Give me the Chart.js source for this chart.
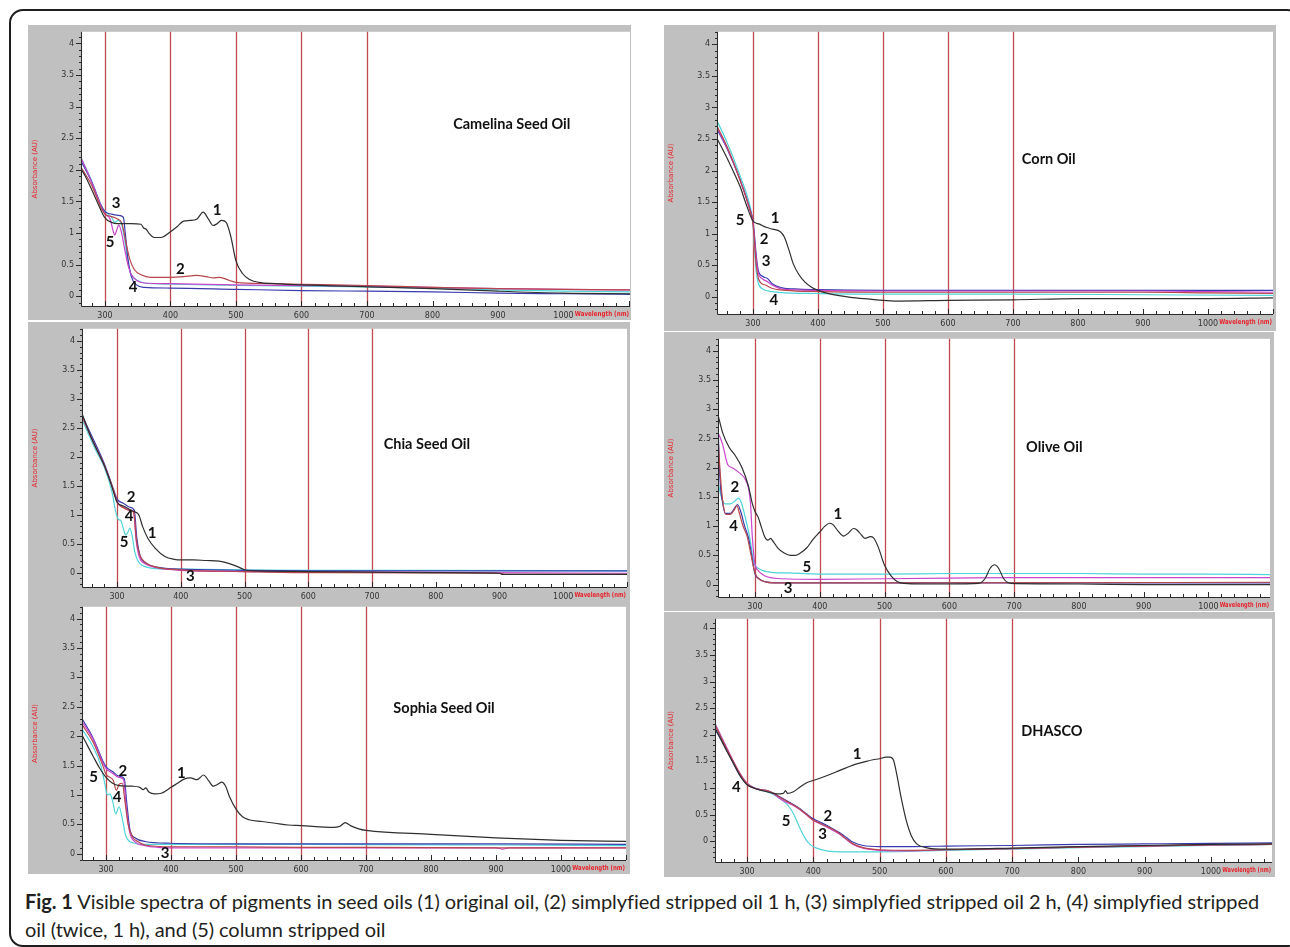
<!DOCTYPE html>
<html>
<head>
<meta charset="utf-8">
<script src="https://cdn.jsdelivr.net/npm/chart.js@4.4.0/dist/chart.umd.min.js"></script>
<style>
html,body{margin:0;padding:0;background:#fff;width:1290px;height:947px;overflow:hidden;position:relative;}
#frame{position:absolute;left:9px;top:9px;width:1292px;height:938px;border:2px solid #1e1e1e;border-radius:14px;box-sizing:border-box;}
canvas{position:absolute;}
#caption{position:absolute;left:25px;top:887px;font-family:Lato,"Open Sans",sans-serif;font-size:20px;line-height:28px;color:#231f20;white-space:nowrap;}
#caption b{font-weight:bold;}
</style>
</head>
<body>
<div id="frame"></div>
<div id="caption"><span id="capLine1"><b>Fig. 1</b> Visible spectra of pigments in seed oils (1) original oil, (2) simplyfied stripped oil 1 h, (3) simplyfied stripped oil 2 h, (4) simplyfied stripped</span><br><span id="capLine2">oil (twice, 1 h), and (5) column stripped oil</span></div>
<script>
// ---------- shared axis data ----------
const xTickValues = [300, 400, 500, 600, 700, 800, 900, 1000];
const xTickLabels = ['300', '400', '500', '600', '700', '800', '900', '1000'];
const yTickValues = [0, 0.5, 1, 1.5, 2, 2.5, 3, 3.5, 4];
const yTickLabels = ['0', '0.5', '1', '1.5', '2', '2.5', '3', '3.5', '4'];
const markerWavelengths = [300, 400, 500, 600, 700];
const seriesNames = ['1', '2', '3', '4', '5'];
const panelTitles = ['Camelina Seed Oil', 'Corn Oil', 'Chia Seed Oil', 'Olive Oil', 'Sophia Seed Oil', 'DHASCO'];
const xAxisTitle = 'Wavelength (nm)';
const yAxisTitle = 'Absorbance (AU)';

// ---------- Camelina seed oil: [wavelength nm, absorbance] ----------
const camelina1 = [[263,2.02],[270,1.9],[280,1.68],[290,1.45],[300,1.24],[310,1.17],[320,1.15],[340,1.15],[355,1.14],[359,1.08],[363,1.06],[367,1.0],[375,0.93],[385,0.93],[400,1.02],[410,1.1],[420,1.19],[430,1.2],[440,1.22],[450,1.33],[458,1.22],[465,1.12],[470,1.14],[478,1.2],[485,1.17],[492,0.95],[500,0.56],[510,0.36],[520,0.27],[535,0.22],[560,0.2],[600,0.18],[700,0.15],[800,0.12],[900,0.08],[1000,0.05],[1102,0.04]];
const camelina2 = [[263,2.05],[280,1.75],[295,1.38],[300,1.3],[310,1.26],[320,1.22],[326,1.15],[332,0.85],[338,0.58],[345,0.42],[355,0.34],[370,0.3],[400,0.3],[420,0.31],[440,0.33],[455,0.31],[465,0.29],[475,0.3],[490,0.25],[500,0.22],[550,0.2],[600,0.19],[700,0.17],[800,0.14],[900,0.12],[1000,0.11],[1102,0.1]];
const camelina3 = [[263,2.2],[280,1.8],[295,1.4],[300,1.3],[308,1.22],[312,1.05],[315,0.97],[318,1.05],[321,1.13],[325,1.02],[330,0.75],[335,0.5],[340,0.35],[350,0.24],[360,0.21],[400,0.2],[500,0.18],[600,0.17],[700,0.16],[800,0.14],[900,0.12],[1000,0.11],[1102,0.1]];
const camelina4 = [[263,2.15],[280,1.8],[295,1.42],[300,1.34],[310,1.3],[320,1.28],[328,1.25],[331,1.0],[335,0.6],[340,0.32],[348,0.18],[360,0.14],[400,0.13],[500,0.11],[600,0.09],[700,0.08],[800,0.07],[900,0.05],[1000,0.04],[1102,0.03]];
const camelina5 = [[263,2.2],[280,1.82],[295,1.42],[300,1.35],[310,1.25],[315,1.17],[320,1.2],[325,1.15],[330,0.9],[335,0.55],[340,0.35],[350,0.25],[360,0.21],[400,0.19],[500,0.17],[600,0.16],[700,0.15],[800,0.13],[900,0.1],[1000,0.08],[1102,0.07]];
const camelinaLabels = [['1',471,1.37],['2',415,0.43],['3',317,1.47],['4',343,0.14],['5',308,0.86]];

// ---------- Corn oil ----------
const corn1 = [[245,2.5],[260,2.2],[270,1.98],[280,1.75],[290,1.45],[300,1.2],[310,1.15],[320,1.1],[330,1.07],[342,1.03],[348,0.95],[355,0.75],[362,0.52],[370,0.36],[380,0.23],[390,0.15],[400,0.1],[420,0.04],[450,-0.01],[480,-0.04],[500,-0.06],[520,-0.07],[600,-0.06],[700,-0.05],[800,-0.03],[900,-0.03],[1000,-0.03],[1100,-0.02]];
const corn2 = [[245,2.7],[260,2.38],[280,1.85],[295,1.38],[300,1.15],[302,0.9],[305,0.5],[308,0.3],[312,0.22],[320,0.18],[330,0.13],[350,0.1],[400,0.08],[500,0.07],[700,0.07],[900,0.07],[1000,0.06],[1100,0.05]];
const corn3 = [[245,2.68],[260,2.36],[280,1.85],[295,1.38],[300,1.18],[302,0.95],[305,0.6],[308,0.38],[315,0.28],[322,0.24],[330,0.18],[345,0.12],[400,0.1],[500,0.09],[700,0.09],[900,0.09],[1000,0.08],[1100,0.07]];
const corn4 = [[245,2.65],[260,2.35],[280,1.86],[295,1.4],[300,1.2],[302,1.0],[305,0.65],[308,0.42],[315,0.32],[322,0.29],[330,0.2],[345,0.14],[370,0.12],[400,0.11],[500,0.1],[700,0.1],[900,0.1],[1000,0.1],[1100,0.1]];
const corn5 = [[245,2.78],[260,2.45],[280,1.92],[295,1.45],[300,1.15],[302,0.8],[305,0.4],[308,0.22],[315,0.12],[330,0.08],[350,0.06],[400,0.05],[500,0.04],[700,0.04],[900,0.03],[1100,0.02]];
const cornLabels = [['1',334,1.25],['2',317,0.91],['3',320,0.56],['4',332,-0.06],['5',280,1.22]];

// ---------- Chia seed oil ----------
const chia1 = [[245,2.75],[255,2.45],[265,2.2],[280,1.85],[290,1.55],[300,1.22],[310,1.15],[320,1.09],[328,1.05],[334,1.0],[340,0.8],[348,0.6],[360,0.42],[375,0.28],[390,0.23],[400,0.22],[420,0.22],[440,0.21],[460,0.2],[475,0.16],[490,0.1],[500,0.05],[520,0.03],[600,0.02],[700,0.01],[800,0.0],[900,-0.01],[905,-0.03],[1100,-0.03]];
const chia2 = [[245,2.7],[265,2.2],[280,1.85],[295,1.4],[300,1.22],[310,1.12],[320,1.07],[326,1.04],[330,0.6],[335,0.32],[342,0.2],[360,0.1],[400,0.05],[500,0.02],[600,0.0],[900,-0.01],[910,-0.03],[1100,-0.03]];
const chia3 = [[245,2.7],[265,2.2],[280,1.86],[295,1.4],[300,1.22],[310,1.13],[320,1.08],[326,1.05],[330,0.55],[335,0.27],[345,0.15],[360,0.09],[400,0.04],[500,0.02],[700,0.01],[1100,-0.01]];
const chia4 = [[245,2.72],[265,2.25],[280,1.88],[295,1.42],[300,1.27],[310,1.2],[320,1.13],[327,1.08],[331,0.6],[336,0.3],[345,0.17],[360,0.1],[380,0.07],[400,0.06],[500,0.04],[600,0.03],[1100,0.03]];
const chia5 = [[245,2.65],[265,2.15],[280,1.82],[292,1.4],[298,1.05],[302,0.92],[306,0.9],[310,0.75],[314,0.65],[317,0.7],[320,0.77],[324,0.62],[328,0.35],[334,0.18],[345,0.1],[360,0.07],[400,0.06],[500,0.05],[600,0.04],[800,0.04],[1100,0.03]];
const chiaLabels = [['1',355,0.69],['2',322,1.3],['3',415,-0.06],['4',319,0.98],['5',311,0.53]];

// ---------- Olive oil ----------
const olive1 = [[243,2.9],[250,2.6],[260,2.35],[270,2.2],[280,2.0],[290,1.68],[296,1.38],[300,1.25],[305,1.15],[310,0.98],[315,0.82],[320,0.76],[324,0.79],[328,0.74],[335,0.63],[345,0.54],[355,0.5],[362,0.5],[370,0.54],[380,0.63],[390,0.78],[400,0.9],[408,1.0],[415,1.05],[420,1.03],[428,0.92],[437,0.83],[444,0.88],[452,0.96],[457,0.94],[465,0.84],[470,0.79],[478,0.82],[483,0.8],[490,0.65],[500,0.33],[510,0.15],[520,0.05],[530,0.02],[560,0.01],[600,0.01],[645,0.02],[655,0.1],[663,0.28],[670,0.34],[676,0.28],[684,0.1],[695,0.02],[800,0.01],[900,0.0],[1000,0.0],[1096,0.0]];
const olive2 = [[243,2.5],[247,1.8],[250,1.45],[255,1.2],[262,1.2],[268,1.28],[272,1.35],[276,1.22],[281,1.02],[288,0.82],[294,0.5],[300,0.2],[306,0.1],[315,0.05],[330,0.03],[600,0.03],[1096,0.04]];
const olive3 = [[243,2.6],[250,2.4],[258,2.05],[265,2.0],[275,1.92],[285,1.8],[290,1.65],[293,1.4],[296,0.8],[300,0.35],[305,0.24],[312,0.17],[320,0.13],[340,0.1],[400,0.09],[500,0.1],[600,0.11],[700,0.12],[800,0.12],[900,0.12],[1000,0.12],[1096,0.12]];
const olive4 = [[243,2.7],[246,1.8],[250,1.4],[254,1.22],[262,1.22],[268,1.3],[273,1.37],[278,1.25],[284,1.0],[290,0.8],[295,0.5],[300,0.18],[306,0.1],[315,0.05],[330,0.03],[1096,0.03]];
const olive5 = [[243,1.75],[248,1.5],[254,1.38],[262,1.38],[270,1.44],[274,1.48],[279,1.4],[286,1.1],[292,0.8],[297,0.45],[300,0.33],[305,0.28],[312,0.24],[325,0.21],[350,0.2],[400,0.18],[500,0.18],[600,0.19],[700,0.19],[800,0.19],[900,0.18],[1000,0.18],[1096,0.17]];
const oliveLabels = [['1',428,1.21],['2',269,1.67],['3',351,-0.06],['4',267,1.0],['5',380,0.3]];

// ---------- Sophia seed oil ----------
const sophia1 = [[263,2.02],[270,1.87],[280,1.66],[290,1.46],[300,1.3],[310,1.2],[320,1.16],[340,1.15],[352,1.13],[357,1.09],[361,1.12],[366,1.05],[375,1.02],[385,1.03],[400,1.13],[410,1.2],[420,1.27],[430,1.29],[440,1.26],[450,1.34],[458,1.24],[465,1.15],[470,1.17],[478,1.22],[484,1.15],[490,0.97],[500,0.76],[510,0.63],[520,0.58],[540,0.55],[560,0.52],[580,0.49],[600,0.48],[650,0.45],[660,0.47],[668,0.53],[676,0.48],[690,0.42],[700,0.4],[800,0.33],[900,0.27],[1000,0.23],[1100,0.21]];
const sophia2 = [[263,2.2],[280,1.9],[295,1.5],[300,1.35],[306,1.3],[311,1.25],[316,1.08],[320,1.18],[325,1.2],[329,0.9],[334,0.5],[340,0.3],[350,0.2],[360,0.15],[400,0.12],[500,0.12],[600,0.11],[700,0.11],[900,0.1],[1100,0.1]];
const sophia3 = [[263,2.25],[280,1.95],[295,1.55],[300,1.45],[310,1.37],[320,1.3],[327,1.26],[331,0.8],[336,0.38],[345,0.2],[360,0.14],[380,0.11],[400,0.1],[600,0.1],[900,0.1],[910,0.08],[920,0.1],[1100,0.1]];
const sophia4 = [[263,2.3],[280,1.97],[295,1.58],[300,1.48],[310,1.4],[320,1.32],[328,1.28],[332,0.85],[337,0.4],[345,0.27],[360,0.21],[400,0.18],[500,0.17],[600,0.17],[900,0.17],[1100,0.16]];
const sophia5 = [[263,2.12],[280,1.82],[292,1.5],[298,1.2],[302,1.0],[306,1.02],[310,0.9],[315,0.68],[320,0.8],[325,0.6],[330,0.32],[338,0.2],[360,0.16],[400,0.16],[600,0.16],[900,0.15],[1100,0.14]];
const sophiaLabels = [['1',416,1.38],['2',326,1.41],['3',391,0.01],['4',317,0.97],['5',281,1.31]];

// ---------- DHASCO ----------
const dhasco1 = [[252,2.12],[260,1.93],[270,1.68],[280,1.45],[290,1.22],[300,1.06],[310,1.0],[320,0.96],[330,0.93],[340,0.9],[350,0.89],[355,0.9],[358,0.95],[361,0.9],[370,0.93],[380,1.02],[390,1.1],[400,1.14],[420,1.23],[440,1.33],[460,1.43],[480,1.5],[490,1.53],[500,1.55],[510,1.58],[516,1.58],[521,1.52],[526,1.25],[532,0.85],[540,0.4],[548,0.1],[556,-0.05],[570,-0.12],[600,-0.15],[700,-0.13],[800,-0.1],[900,-0.08],[1000,-0.06],[1092,-0.05]];
const dhasco2 = [[252,2.18],[270,1.72],[290,1.25],[300,1.08],[310,1.0],[320,0.97],[330,0.95],[340,0.9],[350,0.82],[360,0.75],[370,0.68],[380,0.6],[390,0.5],[400,0.4],[410,0.34],[420,0.28],[430,0.22],[440,0.14],[450,0.04],[460,-0.05],[475,-0.12],[500,-0.16],[550,-0.17],[600,-0.16],[700,-0.14],[800,-0.11],[900,-0.09],[1000,-0.07],[1092,-0.06]];
const dhasco3 = [[252,2.2],[270,1.74],[290,1.26],[300,1.09],[310,1.01],[320,0.97],[330,0.95],[340,0.89],[350,0.8],[360,0.73],[370,0.67],[380,0.59],[390,0.49],[400,0.39],[410,0.33],[420,0.27],[430,0.2],[440,0.13],[450,0.03],[460,-0.06],[475,-0.13],[500,-0.17],[550,-0.18],[600,-0.16],[700,-0.14],[800,-0.11],[900,-0.09],[1000,-0.07],[1092,-0.06]];
const dhasco4 = [[252,2.1],[270,1.7],[290,1.22],[300,1.07],[310,1.0],[320,0.97],[330,0.95],[340,0.9],[350,0.83],[360,0.76],[370,0.69],[380,0.61],[390,0.51],[400,0.42],[410,0.36],[420,0.3],[430,0.23],[440,0.16],[450,0.07],[460,-0.02],[475,-0.08],[500,-0.1],[550,-0.1],[600,-0.09],[700,-0.08],[800,-0.06],[900,-0.05],[1000,-0.04],[1092,-0.03]];
const dhasco5 = [[252,2.2],[270,1.73],[290,1.25],[300,1.08],[320,0.97],[340,0.88],[350,0.8],[358,0.72],[365,0.62],[370,0.52],[375,0.38],[380,0.24],[388,0.05],[395,-0.06],[405,-0.13],[420,-0.18],[450,-0.2],[500,-0.2],[600,-0.17],[700,-0.15],[800,-0.12],[900,-0.1],[1000,-0.08],[1092,-0.06]];
const dhascoLabels = [['1',466,1.63],['2',422,0.47],['3',414,0.14],['4',284,1.01],['5',359,0.37]];

// title anchors [wavelength, absorbance]
const titleAnchors = [[921,2.72],[755,2.18],[786,2.22],[762,2.34],[820,2.48],[760,2.07]];

// ---------- styling / layout ----------
const seriesColors = ['#2f2f2f', '#b8474d', '#c945cc', '#3a3cae', '#4fd4d8'];
const GRAY = '#c0c0c0';
const MARKER = '#c24a4e';
const TICK_FONT = '8px "DejaVu Sans"';

const panels = [
  {title:0, series:[camelina1,camelina2,camelina3,camelina4,camelina5], labels:camelinaLabels,
   box:[28,25,631,320], area:[81,25,630,306], x:[263.4,1101.5], y:[-0.154,4.185]},
  {title:1, series:[corn1,corn2,corn3,corn4,corn5], labels:cornLabels,
   box:[664,25,1276,331], area:[717,26,1273,314], x:[244.6,1100], y:[-0.275,4.2]},
  {title:2, series:[chia1,chia2,chia3,chia4,chia5], labels:chiaLabels,
   box:[28,322,630,600], area:[82,322,627,587], x:[245,1100], y:[-0.247,4.21]},
  {title:3, series:[olive1,olive2,olive3,olive4,olive5], labels:oliveLabels,
   box:[664,332,1274,611], area:[718,332,1270,597], x:[242.9,1095], y:[-0.212,4.205]},
  {title:4, series:[sophia1,sophia2,sophia3,sophia4,sophia5], labels:sophiaLabels,
   box:[28,600,630,874], area:[82,600,626,860], x:[263,1100], y:[-0.105,4.2]},
  {title:5, series:[dhasco1,dhasco2,dhasco3,dhasco4,dhasco5], labels:dhascoLabels,
   box:[664,612,1275,877], area:[715,613,1272,862], x:[251.7,1092], y:[-0.39,4.178]}
];

function panelPlugin(cfg) {
  return {
    id: 'panelDeco',
    beforeDraw(chart) {
      const ctx = chart.ctx, a = chart.chartArea;
      ctx.save();
      ctx.fillStyle = GRAY;
      ctx.fillRect(0, 0, chart.width, chart.height);
      ctx.fillStyle = '#ffffff';
      ctx.fillRect(a.left, a.top, a.right - a.left, a.bottom - a.top);
      ctx.restore();
    },
    beforeDatasetsDraw(chart) {
      const ctx = chart.ctx, a = chart.chartArea, xs = chart.scales.x;
      ctx.save();
      ctx.strokeStyle = MARKER;
      ctx.lineWidth = 1.3;
      markerWavelengths.forEach(w => {
        const px = Math.round(xs.getPixelForValue(w)) + 0.5;
        ctx.beginPath(); ctx.moveTo(px, a.top); ctx.lineTo(px, a.bottom); ctx.stroke();
      });
      ctx.restore();
    },
    afterDatasetsDraw(chart) {
      const ctx = chart.ctx, a = chart.chartArea, xs = chart.scales.x, ys = chart.scales.y;
      ctx.save();
      // axis lines
      ctx.strokeStyle = '#2a2a2a';
      ctx.lineWidth = 1;
      ctx.beginPath();
      ctx.moveTo(a.left + 0.5, a.top); ctx.lineTo(a.left + 0.5, a.bottom + 0.5);
      ctx.lineTo(a.right, a.bottom + 0.5);
      ctx.stroke();
      // y ticks (major + minor), outside
      ctx.beginPath();
      for (let v = Math.ceil(cfg.y[0] * 10) / 10; v <= cfg.y[1] + 1e-9; v = Math.round((v + 0.1) * 10) / 10) {
        const py = Math.round(ys.getPixelForValue(v)) + 0.5;
        const major = yTickValues.some(t => Math.abs(t - v) < 1e-6);
        ctx.moveTo(a.left - (major ? 5 : 2), py); ctx.lineTo(a.left, py);
      }
      // x ticks (major + minor), inside
      for (let v = Math.ceil(cfg.x[0] / 20) * 20; v <= cfg.x[1]; v += 20) {
        const px = Math.round(xs.getPixelForValue(v)) + 0.5;
        const major = v % 100 === 0;
        ctx.moveTo(px, a.bottom); ctx.lineTo(px, a.bottom - (major ? 5 : 3));
      }
      ctx.stroke();
      // x axis title in red right after last tick label (squeezed to the room left)
      ctx.font = TICK_FONT;
      const last = xTickValues[xTickValues.length - 1];
      const lastW = ctx.measureText(xTickLabels[xTickLabels.length - 1]).width;
      const tx = xs.getPixelForValue(last) + lastW / 2 + 1;
      ctx.font = 'bold 7px "DejaVu Sans Condensed", "DejaVu Sans"';
      ctx.fillStyle = '#e8232b';
      ctx.textAlign = 'left';
      ctx.textBaseline = 'top';
      ctx.fillText(xAxisTitle, tx, a.bottom + 5, Math.max(10, a.right - tx - 1));
      // series number labels
      ctx.fillStyle = '#111';
      ctx.font = 'bold 15px Lato, "Open Sans", sans-serif';
      ctx.textAlign = 'center';
      ctx.textBaseline = 'middle';
      cfg.labels.forEach(l => {
        ctx.fillText(l[0], xs.getPixelForValue(l[1]), ys.getPixelForValue(l[2]));
      });
      // panel title
      const t = titleAnchors[cfg.title];
      ctx.font = 'bold 14.5px Lato, "Open Sans", sans-serif';
      ctx.fillText(panelTitles[cfg.title], xs.getPixelForValue(t[0]), ys.getPixelForValue(t[1]));
      ctx.restore();
    }
  };
}

function makePanel(cfg) {
  const cv = document.createElement('canvas');
  const w = cfg.box[2] - cfg.box[0], h = cfg.box[3] - cfg.box[1];
  cv.width = w; cv.height = h;
  cv.style.left = cfg.box[0] + 'px'; cv.style.top = cfg.box[1] + 'px';
  cv.style.width = w + 'px'; cv.style.height = h + 'px';
  document.body.appendChild(cv);
  const datasets = cfg.series.map((s, i) => ({
    label: seriesNames[i],
    data: s.map(p => ({x: p[0], y: p[1]})),
    borderColor: seriesColors[i],
    backgroundColor: seriesColors[i],
    borderWidth: 1.2,
    pointRadius: 0,
    fill: false,
    cubicInterpolationMode: 'monotone'
  }));
  new Chart(cv, {
    type: 'line',
    data: {datasets},
    options: {
      responsive: false,
      animation: false,
      devicePixelRatio: 1,
      layout: {padding: {top: cfg.area[1] - cfg.box[1], right: cfg.box[2] - cfg.area[2], left: 0, bottom: 0}},
      plugins: {legend: {display: false}, tooltip: {enabled: false}},
      scales: {
        x: {
          type: 'linear', min: cfg.x[0], max: cfg.x[1],
          afterBuildTicks: s => { s.ticks = xTickValues.map(v => ({value: v})); },
          afterFit: s => { s.height = cfg.box[3] - cfg.area[3]; },
          grid: {display: false, drawTicks: false},
          border: {display: false},
          ticks: {autoSkip: false, maxRotation: 0, padding: 5, color: '#333',
                  font: {family: 'DejaVu Sans', size: 8},
                  callback: v => xTickLabels[xTickValues.indexOf(v)]}
        },
        y: {
          type: 'linear', min: cfg.y[0], max: cfg.y[1],
          afterBuildTicks: s => { s.ticks = yTickValues.map(v => ({value: v})); },
          afterFit: s => { s.width = cfg.area[0] - cfg.box[0]; },
          grid: {display: false, drawTicks: true, tickLength: 5},
          border: {display: false},
          ticks: {padding: 2, color: '#333', font: {family: 'DejaVu Sans', size: 8},
                  callback: v => yTickLabels[yTickValues.indexOf(v)]},
          title: {display: true, text: yAxisTitle, color: '#e8232b',
                  font: {family: 'DejaVu Sans', size: 7}, padding: {top: 3, bottom: 0}}
        }
      }
    },
    plugins: [panelPlugin(cfg)]
  });
}

panels.forEach(makePanel);

// fit caption line 1 to the reference width
(function fitCaption() {
  const cap = document.getElementById('caption');
  const l1 = document.getElementById('capLine1');
  const target = 1233;
  const wNow = l1.getBoundingClientRect().width;
  const n = l1.textContent.length;
  const ls = (target - wNow) / n;
  cap.style.letterSpacing = ls.toFixed(3) + 'px';
})();
</script>
</body>
</html>
